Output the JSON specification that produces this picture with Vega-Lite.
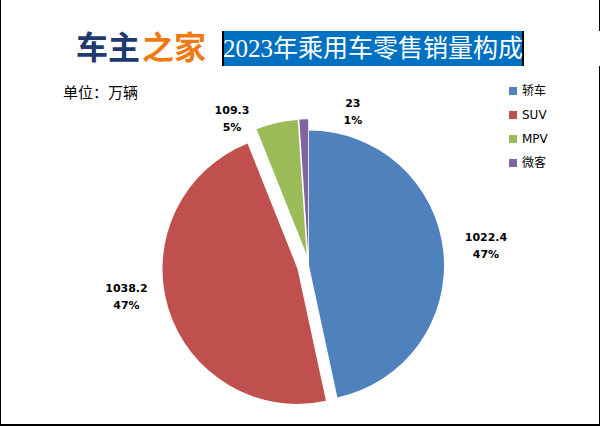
{
  "$schema": "https://vega.github.io/schema/vega-lite/v6.json",
  "background": "#000000",
  "padding": {"left": 1, "top": 0, "right": 1, "bottom": 2},
  "spacing": 0,
  "resolve": {"scale": {"color": "independent", "x": "independent", "theta": "independent"}, "legend": {"color": "independent"}},
  "config": {"concat": {"spacing": 0}},
  "vconcat": [
    {"width": 598, "height": 31, "view": {"fill": "white", "stroke": null}, "data": {"values": [{}]}, "mark": "text", "encoding": {"text": {"value": ""}}},
    {
      "spacing": 0,
      "hconcat": [
        {"width": 74, "height": 35, "view": {"fill": "white", "stroke": null}, "data": {"values": [{}]}, "mark": "text", "encoding": {"text": {"value": ""}}},
        {
          "width": 132, "height": 35,
          "view": {"fill": "white", "stroke": null},
          "data": {"values": [{"t": "车主"}, {"t": "之家"}]},
          "mark": {"type": "text", "font": "Noto Sans CJK SC", "fontWeight": "bold", "fontSize": 32, "baseline": "middle"},
          "encoding": {
            "x": {"field": "t", "type": "nominal", "axis": null, "sort": null},
            "text": {"field": "t"},
            "color": {"field": "t", "type": "nominal", "scale": {"domain": ["车主", "之家"], "range": ["#1E3A6E", "#F07A10"]}, "legend": null}
          }
        },
        {"width": 15, "height": 35, "view": {"fill": "white", "stroke": null}, "data": {"values": [{}]}, "mark": "text", "encoding": {"text": {"value": ""}}},
        {
          "width": 298, "height": 35,
          "view": {"fill": "#0070C0", "stroke": null},
          "data": {"values": [{"t": "2023年乘用车零售销量构成"}]},
          "mark": {"type": "text", "font": "Liberation Serif, Noto Sans CJK SC", "fontSize": 25, "color": "white", "baseline": "middle"},
          "encoding": {"text": {"field": "t"}}
        },
        {"width": 79, "height": 35, "view": {"fill": "white", "stroke": null}, "data": {"values": [{}]}, "mark": "text", "encoding": {"text": {"value": ""}}}
      ]
    },
    {
      "width": 598, "height": 358,
      "view": {"fill": "white", "stroke": null},
      "title": {"text": "单位：万辆", "orient": "top", "anchor": "start", "frame": "group", "offset": -50, "dx": 62, "font": "Noto Sans CJK SC", "fontSize": 15, "fontWeight": "normal", "color": "black", "baseline": "bottom"},
      "data": {"values": [
        {"type": "轿车", "value": 1022.4, "label": "1022.4\n47%", "order": 1},
        {"type": "SUV", "value": 1038.2, "label": "1038.2\n47%", "order": 2},
        {"type": "MPV", "value": 109.3, "label": "109.3\n5%", "order": 3},
        {"type": "微客", "value": 23, "label": "23\n1%", "order": 4}
      ]},
      "transform": [
        {"stack": "value", "groupby": [], "sort": [{"field": "order", "order": "ascending"}], "as": ["s0", "s1"]}
      ],
      "encoding": {
        "theta": {"field": "s0", "type": "quantitative", "scale": {"domain": [0, 2192.9], "nice": false, "zero": false}},
        "color": {
          "field": "type", "type": "nominal",
          "scale": {"domain": ["轿车", "SUV", "MPV", "微客"], "range": ["#4F81BD", "#C0504D", "#9BBB59", "#8064A2"]},
          "legend": {
            "title": null, "orient": "none", "legendX": 506, "legendY": 19,
            "symbolType": "square", "symbolSize": 64, "symbolStrokeWidth": 0,
            "labelFont": "DejaVu Sans, Noto Sans CJK SC", "labelFontSize": 12, "labelColor": "black",
            "labelOffset": 3, "rowPadding": 12, "padding": 0
          }
        }
      },
      "layer": [
        {"transform": [{"filter": "datum.type === '轿车'"}],
         "layer": [
           {"mark": {"type": "arc", "outerRadius": 135, "xOffset": 9, "yOffset": 20.5}, "encoding": {"theta2": {"field": "s1"}}},
           {"mark": {"type": "text", "radius": 179, "thetaOffset": 1.419, "xOffset": 9, "yOffset": 20.5, "lineBreak": "\n", "font": "DejaVu Sans", "fontWeight": "bold", "fontSize": 11, "lineHeight": 17, "align": "center", "baseline": "middle"},
            "encoding": {"text": {"field": "label"}, "color": {"value": "black"}}}
         ]},
        {"transform": [{"filter": "datum.type === 'SUV'"}],
         "layer": [
           {"mark": {"type": "arc", "outerRadius": 135, "xOffset": -2.5, "yOffset": 23.9}, "encoding": {"theta2": {"field": "s1"}}},
           {"mark": {"type": "text", "radius": 184, "thetaOffset": 1.657, "xOffset": 9, "yOffset": 20.5, "lineBreak": "\n", "font": "DejaVu Sans", "fontWeight": "bold", "fontSize": 11, "lineHeight": 17, "align": "center", "baseline": "middle"},
            "encoding": {"text": {"field": "label"}, "color": {"value": "black"}}}
         ]},
        {"transform": [{"filter": "datum.type === 'MPV'"}],
         "layer": [
           {"mark": {"type": "arc", "outerRadius": 135, "xOffset": 6.6, "yOffset": 9.6}, "encoding": {"theta2": {"field": "s1"}}},
           {"mark": {"type": "text", "radius": 172.6, "thetaOffset": -0.0834, "xOffset": 9, "yOffset": 20.5, "lineBreak": "\n", "font": "DejaVu Sans", "fontWeight": "bold", "fontSize": 11, "lineHeight": 17, "align": "center", "baseline": "middle"},
            "encoding": {"text": {"field": "label"}, "color": {"value": "black"}}}
         ]},
        {"transform": [{"filter": "datum.type === '微客'"}],
         "layer": [
           {"mark": {"type": "arc", "outerRadius": 135, "xOffset": 8.2, "yOffset": 9.2}, "encoding": {"theta2": {"field": "s1"}}},
           {"mark": {"type": "text", "radius": 167.4, "thetaOffset": 0.331, "xOffset": 9, "yOffset": 20.5, "lineBreak": "\n", "font": "DejaVu Sans", "fontWeight": "bold", "fontSize": 11, "lineHeight": 17, "align": "center", "baseline": "middle"},
            "encoding": {"text": {"field": "label"}, "color": {"value": "black"}}}
         ]}
      ]
    }
  ]
}
